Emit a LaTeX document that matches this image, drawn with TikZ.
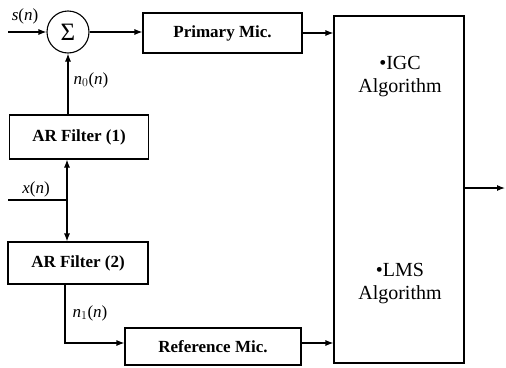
\documentclass[tikz,border=0pt]{standalone}
\usepackage{fontspec}
\setmainfont{Liberation Serif}
\usetikzlibrary{arrows.meta}
\begin{document}
\begin{tikzpicture}[x=1pt,y=-1pt,
  line width=1.1pt,
  arr/.style={-{Latex[length=8pt,width=6pt]}},
  box/.style={draw,rectangle,inner sep=0pt,font=\fontsize{17}{19}\selectfont\bfseries},
  lab/.style={font=\fontsize{17}{19}\selectfont},
  alg/.style={font=\fontsize{20}{23}\selectfont,align=center}]
\useasboundingbox (0,0) rectangle (506,367);
\node[draw,circle,minimum size=42pt,inner sep=0pt,font=\fontsize{25}{27}\selectfont] (sum) at (68,32) {Σ};
\node[box,minimum width=159pt,minimum height=40pt] (pm) at (222.5,33) {Primary Mic.};
\node[draw,rectangle,minimum width=130pt,minimum height=347pt] (algbox) at (399,189.5) {};
\node[box,minimum width=139pt,minimum height=44pt] (ar1) at (79,137) {AR Filter (1)};
\node[box,minimum width=140pt,minimum height=42pt] (ar2) at (78,263) {AR Filter (2)};
\node[box,minimum width=176pt,minimum height=37pt] (rm) at (213,346.5) {Reference Mic.};
\node[alg] (igc) at (400,77) {\textbullet IGC\\Algorithm};
\node[alg] (lms) at (400,284) {\textbullet LMS\\Algorithm};
\coordinate (sin) at (8,32);
\coordinate (xin) at (8,200);
\coordinate (xj) at (67,200);
\coordinate (n1top) at (65,284);
\coordinate (n1c) at (65,343);
\coordinate (outs) at (463,188);
\coordinate (oute) at (505,188);
\node[lab] (sl) at (25,16) {\textit{s}(\textit{n})};
\node[lab] (n0l) at (91,80) {\textit{n}$_0$(\textit{n})};
\node[lab] (xl) at (36,189) {\textit{x}(\textit{n})};
\node[lab] (n1l) at (90,313) {\textit{n}$_1$(\textit{n})};
\draw[arr] (sin) -- (sum.west);
\draw[arr] (sum.east) -- (sum.east -| pm.west);
\draw[arr] (ar1.north -| sum) -- (sum.south);
\draw (xin) -- (xj);
\draw[{Latex[length=8pt,width=6pt]}-{Latex[length=8pt,width=6pt]}] (ar1.south -| xj) -- (ar2.north -| xj);
\draw[arr] (n1top) -- (n1c) -- (n1c -| rm.west);
\draw[arr] (pm.east) -- (pm.east -| algbox.west);
\draw[arr] (rm.east |- n1c) -- (n1c -| algbox.west);
\draw[arr] (outs) -- (oute);
\end{tikzpicture}
\end{document}
